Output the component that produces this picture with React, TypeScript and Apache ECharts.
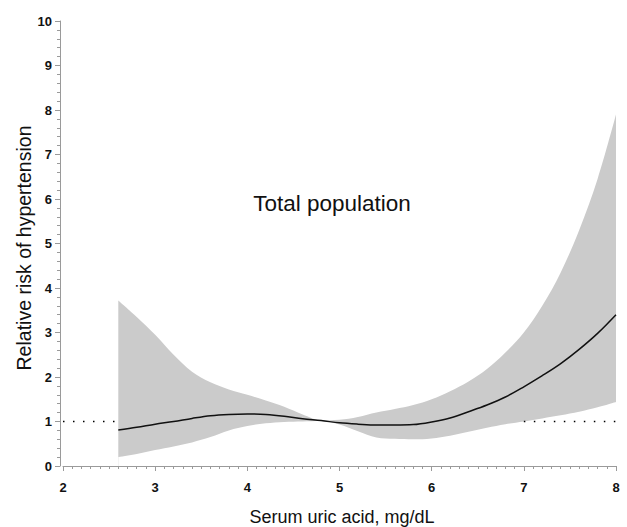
import React, { useEffect, useRef } from "react";
import * as echarts from "echarts";

const xValues = [2.6, 2.8, 3.0, 3.2, 3.4, 3.6, 3.8, 4.0, 4.2, 4.4, 4.6, 4.8, 5.0, 5.2, 5.4, 5.6, 5.8, 6.0, 6.2, 6.4, 6.6, 6.8, 7.0, 7.2, 7.4, 7.6, 7.8, 8.0];
const riskCenter = [0.81, 0.87, 0.94, 1.0, 1.07, 1.13, 1.16, 1.17, 1.16, 1.12, 1.06, 1.02, 0.97, 0.94, 0.92, 0.92, 0.93, 0.99, 1.08, 1.22, 1.37, 1.55, 1.78, 2.03, 2.3, 2.62, 2.98, 3.4];
const riskLower = [0.2, 0.27, 0.36, 0.44, 0.53, 0.65, 0.8, 0.9, 0.96, 0.99, 1.0, 1.01, 0.93, 0.78, 0.64, 0.61, 0.6, 0.62, 0.68, 0.77, 0.86, 0.94, 1.0, 1.07, 1.14, 1.22, 1.32, 1.44];
const riskUpper = [3.72, 3.35, 2.95, 2.5, 2.12, 1.88, 1.72, 1.6, 1.47, 1.33, 1.16, 1.03, 1.04, 1.1, 1.2, 1.28, 1.37, 1.5, 1.68, 1.9, 2.18, 2.55, 3.0, 3.6, 4.35, 5.3, 6.45, 7.9];
const referenceValue = 1;
const xRange = [2, 8];

const titleText = "Total population";
const xTitle = "Serum uric acid, mg/dL";
const yTitle = "Relative risk of hypertension";

export default function App() {
  const ref = useRef<HTMLDivElement>(null);
  useEffect(() => {
    if (!ref.current) return;
    const chart = echarts.init(ref.current, null, { renderer: "svg" });
    const axisColor = "#9a9a9a";
    const bandColor = "#cbcbcb";
    const labelStyle = {
      color: "#111",
      fontFamily: "Liberation Sans",
      fontWeight: "bold" as const,
      fontSize: 13,
    };
    // start of the trailing region where the lower bound is above the reference
    let k = riskLower.length - 1;
    while (k > 0 && riskLower[k - 1] >= referenceValue) k--;
    const dotted = { color: "#000", width: 1.5, type: [1.5, 8.5] };
    chart.setOption({
      animation: false,
      backgroundColor: "#fff",
      grid: { left: 63, right: 11, top: 21, bottom: 61, containLabel: false },
      xAxis: {
        type: "value",
        min: xRange[0],
        max: xRange[1],
        interval: 1,
        offset: 5,
        axisLine: { show: true, lineStyle: { color: axisColor, width: 1 } },
        axisTick: { show: true, length: 5, lineStyle: { color: axisColor } },
        minorTick: { show: true, splitNumber: 10, length: 3, lineStyle: { color: axisColor } },
        splitLine: { show: false },
        axisLabel: { ...labelStyle, margin: 10 },
      },
      yAxis: {
        type: "value",
        min: 0,
        max: 10,
        interval: 1,
        offset: 3,
        axisLine: { show: true, lineStyle: { color: axisColor, width: 1 } },
        axisTick: { show: true, length: 5, lineStyle: { color: axisColor } },
        minorTick: { show: true, splitNumber: 5, length: 3, lineStyle: { color: axisColor } },
        splitLine: { show: false },
        axisLabel: { ...labelStyle, margin: 8 },
      },
      graphic: [
        {
          type: "text",
          x: 332,
          y: 203,
          style: { text: titleText, fill: "#111", font: "22.5px 'Liberation Sans'", textAlign: "center", textVerticalAlign: "middle" },
        },
        {
          type: "text",
          x: 342,
          y: 517,
          style: { text: xTitle, fill: "#111", font: "18px 'Liberation Sans'", textAlign: "center", textVerticalAlign: "middle" },
        },
        {
          type: "text",
          x: 24,
          y: 248,
          rotation: Math.PI / 2,
          style: { text: yTitle, fill: "#111", font: "19.5px 'Liberation Sans'", textAlign: "center", textVerticalAlign: "middle" },
        },
      ],
      series: [
        {
          type: "line",
          data: [[xRange[0], referenceValue], [xRange[1], referenceValue]],
          symbol: "none",
          lineStyle: dotted,
          silent: true,
          z: 1,
        },
        {
          type: "line",
          data: xValues.map((x, i) => [x, riskUpper[i]]),
          symbol: "none",
          smooth: 0.35,
          lineStyle: { width: 0 },
          areaStyle: { color: bandColor, opacity: 1, origin: "start" },
          silent: true,
          z: 2,
        },
        {
          type: "line",
          data: xValues.map((x, i) => [x, riskLower[i]]),
          symbol: "none",
          smooth: 0.35,
          lineStyle: { width: 0 },
          areaStyle: { color: "#ffffff", opacity: 1, origin: "start" },
          silent: true,
          z: 3,
        },
        {
          type: "line",
          data: [[xValues[k], referenceValue], [xRange[1], referenceValue]],
          symbol: "none",
          lineStyle: dotted,
          silent: true,
          z: 4,
        },
        {
          type: "line",
          data: xValues.map((x, i) => [x, riskCenter[i]]),
          symbol: "none",
          smooth: 0.35,
          lineStyle: { color: "#111", width: 1.5 },
          silent: true,
          z: 5,
        },
      ],
    });
    return () => chart.dispose();
  }, []);
  return <div ref={ref} style={{ position: "fixed", left: 0, top: 0, width: 627, height: 527 }} />;
}
